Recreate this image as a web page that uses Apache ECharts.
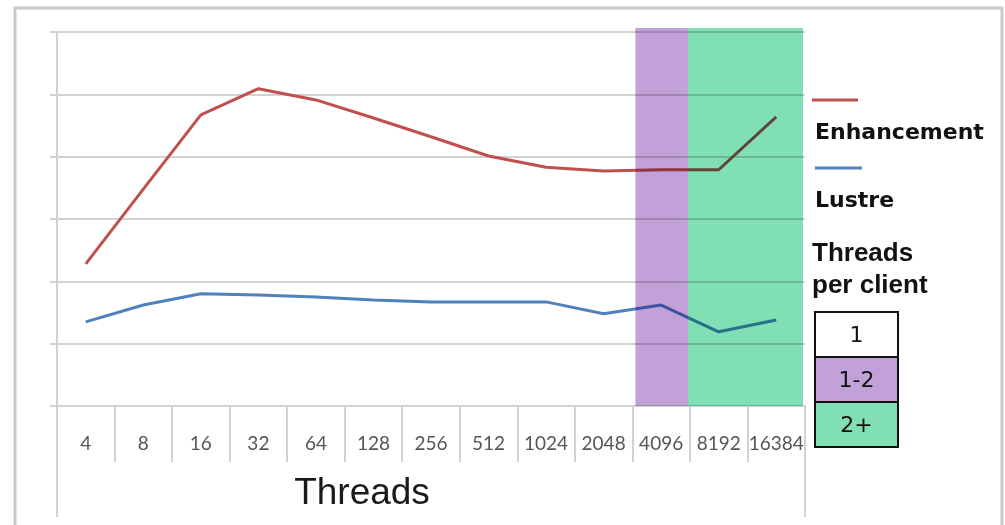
<!DOCTYPE html>
<html>
<head>
<meta charset="utf-8">
<title>Threads</title>
<script src="https://cdn.jsdelivr.net/npm/echarts@6/dist/echarts.min.js"></script>
<style>
  html, body { margin: 0; padding: 0; background: #ffffff; }
  #chart { width: 1005px; height: 525px; }
</style>
</head>
<body>
<div id="chart"></div>
<script>
// Thread counts along the x axis
const categories = ['4', '8', '16', '32', '64', '128', '256', '512', '1024', '2048', '4096', '8192', '16384'];

// Series values (relative units, the y axis is unlabeled)
const enhancement = [2.28, 3.48, 4.67, 5.09, 4.91, 4.62, 4.32, 4.01, 3.83, 3.77, 3.79, 3.79, 4.64];
const lustre = [1.35, 1.62, 1.80, 1.78, 1.75, 1.70, 1.67, 1.67, 1.67, 1.48, 1.62, 1.19, 1.38];

// Value axis range
const yMin = 0;
const yMax = 6;
const yStep = 1;

// Threads-per-client bands: first and last category of each shaded range
const bandFrom = ['4096', '8192'];
const bandTo = ['4096', '16384'];

// Threads-per-client key entries
const clientKeys = ['1', '1-2', '2+'];

// ---- styling ----
const RED = '#C0504D';
const BLUE = '#4F81BD';
const GRIDC = '#d2d2d2';
const keyFill = { '1': '#ffffff', '1-2': '#C1A1D7', '2+': '#80DFB5' };
const bandFill = ['#C1A1D7', '#80DFB5'];
const bandNudge = [[3, -2], [-2, -2]];   // hand-drawn edge offsets (px)

const GL = 57, GR = 805, GT = 32, GB = 406;

const chart = echarts.init(document.getElementById('chart'), null, { renderer: 'canvas' });

// legend key graphics
const BOLD = 'bold 22px "DejaVu Sans", Verdana, sans-serif';
const HEAD = 'bold 26px "Liberation Sans", Arial, sans-serif';
const legendEls = [];
legendEls.push({ type: 'line', shape: { x1: 812, y1: 100, x2: 858, y2: 100 }, style: { stroke: RED, lineWidth: 3 } });
legendEls.push({ type: 'text', x: 815, y: 133, style: { text: 'Enhancement', font: BOLD, fill: '#111', textVerticalAlign: 'middle' } });
legendEls.push({ type: 'line', shape: { x1: 815, y1: 168, x2: 862, y2: 168 }, style: { stroke: BLUE, lineWidth: 3 } });
legendEls.push({ type: 'text', x: 815, y: 201, style: { text: 'Lustre', font: BOLD, fill: '#111', textVerticalAlign: 'middle' } });
legendEls.push({ type: 'text', x: 812, y: 254, style: { text: 'Threads', font: HEAD, fill: '#111', textVerticalAlign: 'middle' } });
legendEls.push({ type: 'text', x: 812, y: 286, style: { text: 'per client', font: HEAD, fill: '#111', textVerticalAlign: 'middle' } });
const boxTop = 312, boxH = 45, boxL = 815, boxW = 83;
clientKeys.forEach((k, i) => {
  legendEls.push({
    type: 'rect',
    shape: { x: boxL, y: boxTop + i * boxH, width: boxW, height: boxH },
    style: { fill: keyFill[k], stroke: '#111', lineWidth: 2 }
  });
  legendEls.push({
    type: 'text', x: boxL + boxW / 2, y: boxTop + i * boxH + boxH / 2 + 2,
    style: { text: k, font: '22px "DejaVu Sans", sans-serif', fill: '#111', textAlign: 'center', textVerticalAlign: 'middle' }
  });
});

const baseGraphic = [
  // outer frame
  { type: 'rect', shape: { x: 15, y: 8, width: 987, height: 540 }, style: { fill: 'none', stroke: '#c9c9c9', lineWidth: 3 }, z: 0 },
  // axis-area side rules
  { type: 'line', shape: { x1: GL, y1: GB, x2: GL, y2: 517 }, style: { stroke: GRIDC, lineWidth: 2 } },
  { type: 'line', shape: { x1: GR, y1: GB, x2: GR, y2: 517 }, style: { stroke: GRIDC, lineWidth: 2 } },
  // axis title
  { type: 'text', x: 362, y: 494, style: { text: 'Threads', font: '37px "Liberation Sans", Arial, sans-serif', fill: '#1a1a1a', textAlign: 'center', textVerticalAlign: 'middle' } }
].concat(legendEls);

const option = {
  animation: false,
  backgroundColor: '#ffffff',
  grid: { left: GL, right: 1005 - GR, top: GT, bottom: 525 - GB, containLabel: false },
  xAxis: {
    type: 'category',
    data: categories,
    boundaryGap: true,
    axisLine: { show: true, lineStyle: { color: GRIDC, width: 2 } },
    axisTick: { show: true, interval: 0, length: 56, lineStyle: { color: GRIDC, width: 2 } },
    axisLabel: { interval: 0, margin: 28, fontSize: 19, fontFamily: 'Lato, "Open Sans", sans-serif', color: '#555555' },
    splitLine: { show: false }
  },
  yAxis: {
    type: 'value',
    min: yMin, max: yMax, interval: yStep,
    axisLine: { show: true, lineStyle: { color: GRIDC, width: 2 } },
    axisTick: { show: true, length: 7, lineStyle: { color: GRIDC, width: 2 } },
    axisLabel: { show: false },
    splitLine: { show: true, lineStyle: { color: GRIDC, width: 2 } }
  },
  series: [
    {
      name: 'Enhancement', type: 'line', data: enhancement,
      symbol: 'none', z: 3,
      lineStyle: { color: RED, width: 3 }, itemStyle: { color: RED }
    },
    {
      name: 'Lustre', type: 'line', data: lustre,
      symbol: 'none', z: 3,
      lineStyle: { color: BLUE, width: 3 }, itemStyle: { color: BLUE }
    }
  ],
  graphic: baseGraphic
};

chart.setOption(option);

// Shaded threads-per-client bands, placed from the category scale and
// multiplied over the plot so lines and grid show through darkened.
const xPix = (cat) => chart.convertToPixel({ xAxisIndex: 0 }, cat);
const step = xPix(categories[1]) - xPix(categories[0]);
const yBottom = chart.convertToPixel({ yAxisIndex: 0 }, yMin);
const yTop = chart.convertToPixel({ yAxisIndex: 0 }, yMax) - 4;
const bandEls = bandFrom.map((f, i) => {
  const x0 = xPix(f) - step / 2 + bandNudge[i][0];
  const x1 = xPix(bandTo[i]) + step / 2 + bandNudge[i][1];
  return {
    type: 'rect', z: 100, silent: true,
    shape: { x: x0, y: yTop, width: x1 - x0, height: yBottom - yTop },
    style: { fill: bandFill[i], blend: 'multiply' }
  };
});
chart.setOption({ graphic: baseGraphic.concat(bandEls) });
</script>
</body>
</html>
